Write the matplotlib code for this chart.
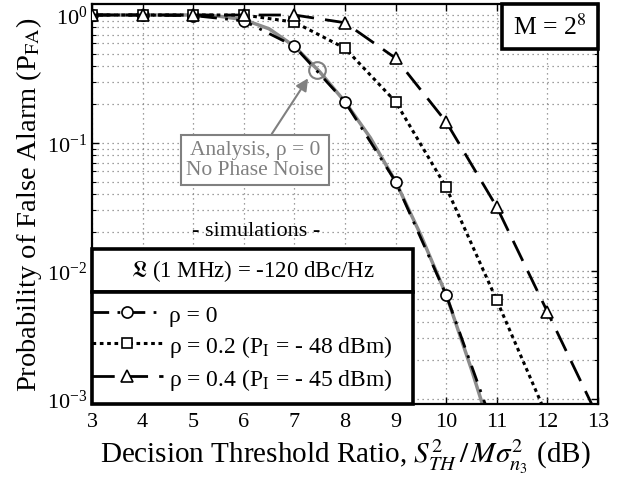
import numpy as np
import matplotlib
matplotlib.use("Agg")
import matplotlib.pyplot as plt
from matplotlib.patches import Rectangle

plt.rcParams['font.family'] = ['Liberation Serif', 'DejaVu Serif']
plt.rcParams['mathtext.fontset'] = 'stix'

# threshold ratio (dB)
x_sim = [3, 4, 5, 6, 7, 8, 9, 10, 11, 12, 13]
# simulations (last point of each runs below the plotted range)
pfa_rho0 = [1.0, 1.0, 0.99, 0.90, 0.57, 0.21, 0.050, 0.0065, 0.00051]
pfa_rho02 = [1.0, 1.0, 1.0, 1.0, 0.88, 0.55, 0.21, 0.045, 0.0059, 0.00072]
pfa_rho04 = [1.0, 1.0, 1.0, 1.0, 1.0, 0.87, 0.46, 0.146, 0.0316, 0.0048, 0.00072]
# analysis, no phase noise
x_ana = [3, 4, 5, 5.5, 6, 6.5, 7, 7.5, 8, 8.5, 9, 9.5, 10, 10.5, 11]
pfa_ana = [1.0, 1.0, 1.0, 0.98, 0.92, 0.78, 0.57, 0.36, 0.21, 0.11, 0.050,
           0.019, 0.0065, 0.0017, 0.0004]

labels = ['ρ = 0', 'ρ = 0.2 (P$_\\mathrm{I}$ = - 48 dBm)',
          'ρ = 0.4 (P$_\\mathrm{I}$ = - 45 dBm)']

fig = plt.figure(figsize=(6.23, 4.81), dpi=100)
ax = fig.add_axes([92/623, 1 - 405/481, 506/623, 400/481])

ax.plot(x_ana, pfa_ana, '-', color='#8c8c8c', lw=2.5, zorder=2)

mk = dict(mfc='white', mec='black', mew=1.2)
l0, = ax.plot(x_sim[:len(pfa_rho0)], pfa_rho0, color='black', lw=2, marker='o', ms=8,
              markevery=list(range(len(pfa_rho0) - 1)), zorder=3, **mk)
l0.set_dashes([6, 3, 1, 3])
l2, = ax.plot(x_sim[:len(pfa_rho02)], pfa_rho02, color='black', lw=2.2, marker='s', ms=7.5,
              markevery=list(range(len(pfa_rho02) - 1)), zorder=3, **mk)
l2.set_dashes([1.2, 1.2])
l4, = ax.plot(x_sim[:len(pfa_rho04)], pfa_rho04, color='black', lw=2, marker='^', ms=9,
              markevery=list(range(len(pfa_rho04) - 1)), zorder=3, **mk)
l4.set_dashes([8, 4])

ax.set_yscale('log')
ax.set_xlim(3, 13)
ax.set_ylim(10**-3.039, 10**0.086)
ax.set_xticks(range(3, 14))
ax.tick_params(which='both', direction='in', top=True, right=True, labelsize=16)
ax.tick_params(axis='x', pad=6)
ax.tick_params(which='major', length=5, width=1)
ax.tick_params(which='minor', length=3, width=0.8)
grid_kw = dict(color='#808080', lw=0.9, dashes=(1, 3))
ax.grid(True, which='major', **grid_kw)
ax.grid(True, which='minor', axis='y', **grid_kw)
for s in ax.spines.values():
    s.set_linewidth(1.6)

ax.set_xlabel(r'Decision Threshold Ratio, $S_{TH}^{2}\,/\,M\sigma_{n_3}^{2}$ (dB)',
              fontsize=21, labelpad=4)
ax.set_ylabel(r'Probability of False Alarm (P$_\mathrm{FA}$)', fontsize=20.5, labelpad=2)

# analysis annotation
ax.plot([7.45], [0.375], 'o', ms=12, mfc='none', mec='#808080', mew=1.5, zorder=4)
ax.annotate('Analysis, ρ = 0\nNo Phase Noise', xy=(7.27, 0.32), xytext=(6.22, 0.074),
            ha='center', va='center', fontsize=15.5, color='#808080', linespacing=1.1,
            bbox=dict(boxstyle='square,pad=0.25', fc='white', ec='#808080', lw=1.5),
            arrowprops=dict(arrowstyle='-|>', color='#808080', lw=1.5,
                            mutation_scale=18, shrinkA=0, shrinkB=0),
            zorder=5)

ax.text(0.325, 0.4325, '- simulations -', transform=ax.transAxes,
        ha='center', va='center', fontsize=16, zorder=6)

# boxes
box_kw = dict(transform=ax.transAxes, fc='white', ec='black', lw=2.6,
              clip_on=False, zorder=6)
ax.add_patch(Rectangle((0, 0.28), 0.634, 0.1075, **box_kw))
ax.add_patch(Rectangle((0, 0), 0.634, 0.28, **box_kw))
ax.add_patch(Rectangle((0.81, 0.8875), 0.19, 0.1125, **box_kw))
ax.text(0.317, 0.335, r'$\mathfrak{L}$ (1 MHz) = -120 dBc/Hz', transform=ax.transAxes,
        ha='center', va='center', fontsize=16.5, zorder=7)
ax.text(0.905, 0.944, r'M = 2$^{8}$', transform=ax.transAxes,
        ha='center', va='center', fontsize=18.5, zorder=7)

leg = ax.legend([l0, l2, l4], labels, loc='upper left', bbox_to_anchor=(0.0, 0.25),
                frameon=False, fontsize=17, handlelength=3.0, handletextpad=0.25,
                labelspacing=0.3, borderpad=0, borderaxespad=0)
leg.set_zorder(8)

fig.savefig('out.png', dpi=100)
